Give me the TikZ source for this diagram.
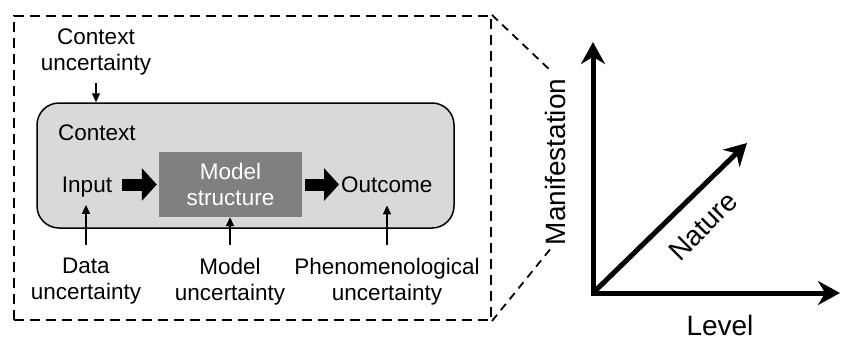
\documentclass[tikz,border=0pt]{standalone}
\usepackage{fontspec}
\setmainfont{Liberation Sans}
\usetikzlibrary{arrows.meta}
\definecolor{ctxgray}{RGB}{217,217,217}
\definecolor{modgray}{RGB}{128,128,128}

\begin{document}
\begin{tikzpicture}
	[x=1pt,y=-1pt,every node/.style={inner sep=0pt, font=\fontsize{22.5}{26}\selectfont},
	lbl/.style={align=center, anchor=north},
	zoombox/.style={draw, line width=2pt, dash pattern=on 10pt off 6pt},
	uparrow/.style={line width=1.5pt, -{Triangle[length=9pt,width=8pt]}},
	blockarrow/.style={line width=12pt, -{Triangle[length=15pt,width=32pt]}},
	axis/.style={line width=5pt, line join=miter},
	axistip/.tip={Stealth[length=22pt,width=24pt]},
	axislbl/.style={font=\fontsize{28}{32}\selectfont}]
	\useasboundingbox (0,0) rectangle (841,338);
	\node[zoombox, minimum width=477pt, minimum height=304pt] (n0) at (252.5,168) {};
	\node[lbl] (n1) at (96,29) {Context\\uncertainty};
	\node[draw, line width=1.5pt, fill=ctxgray, rounded corners=22pt,
		minimum width=417pt, minimum height=125pt] (n2) at (245.5,165.5) {};
	\node[anchor=base west] (n3) at (58,140) {Context};
	\node[anchor=base] (n4) at (87,192) {Input};
	\node[fill=modgray, text=white, align=center,
		minimum width=143pt, minimum height=65pt] (n5) at (230.5,184.5) {Model\\structure};
	\node[anchor=base west] (n6) at (341,192) {Outcome};
	\node[lbl] (n7) at (86,258) {Data\\uncertainty};
	\node[lbl] (n8) at (230,258) {Model\\uncertainty};
	\node[lbl] (n9) at (387,258) {Phenomenological\\uncertainty};
	
	\coordinate (c1) at (552,72);
	\coordinate (c2) at (552,247);
	\draw[zoombox, line width=1.8pt, dash pattern=on 8pt off 6pt] (n0.north east) -- (c1);
	\draw[zoombox, line width=1.8pt, dash pattern=on 8pt off 6pt] (n0.south east) -- (c2);
	
	\draw[uparrow, shorten <=7pt] (n1.south) -- (n1.south |- n2.north);
	\draw[blockarrow, shorten <=10pt, shorten >=2pt] (n5.west -| n4.east) -- (n5.west);
	\draw[blockarrow, shorten <=3pt, shorten >=2pt] (n5.east) -- (n5.east -| n6.west);
	\foreach \from/\to/\gap in {n7/n4/8,n8/n5/0,n9/n6/13}
	\draw[uparrow, shorten <=13pt, shorten >=\gap pt] (\from.north) -- (\from.north |- \to.south);
	
	% axes
	\coordinate (o) at (593,293);
	\coordinate (c3) at (593,42);
	\coordinate (c4) at (840,293);
	\coordinate (c5) at (747,143);
	\draw[axis, axistip-axistip] (c3) -- (o) -- (c4);
	\draw[axis, -axistip] (o) -- (c5);
	\node[axislbl, rotate=90, anchor=base] (n10) at (565,162) {Manifestation};
	\node[axislbl, rotate=45] (n11) at (703,226) {Nature};
	\node[axislbl, anchor=base] (n12) at (720,335) {Level};
\end{tikzpicture}
\end{document}
